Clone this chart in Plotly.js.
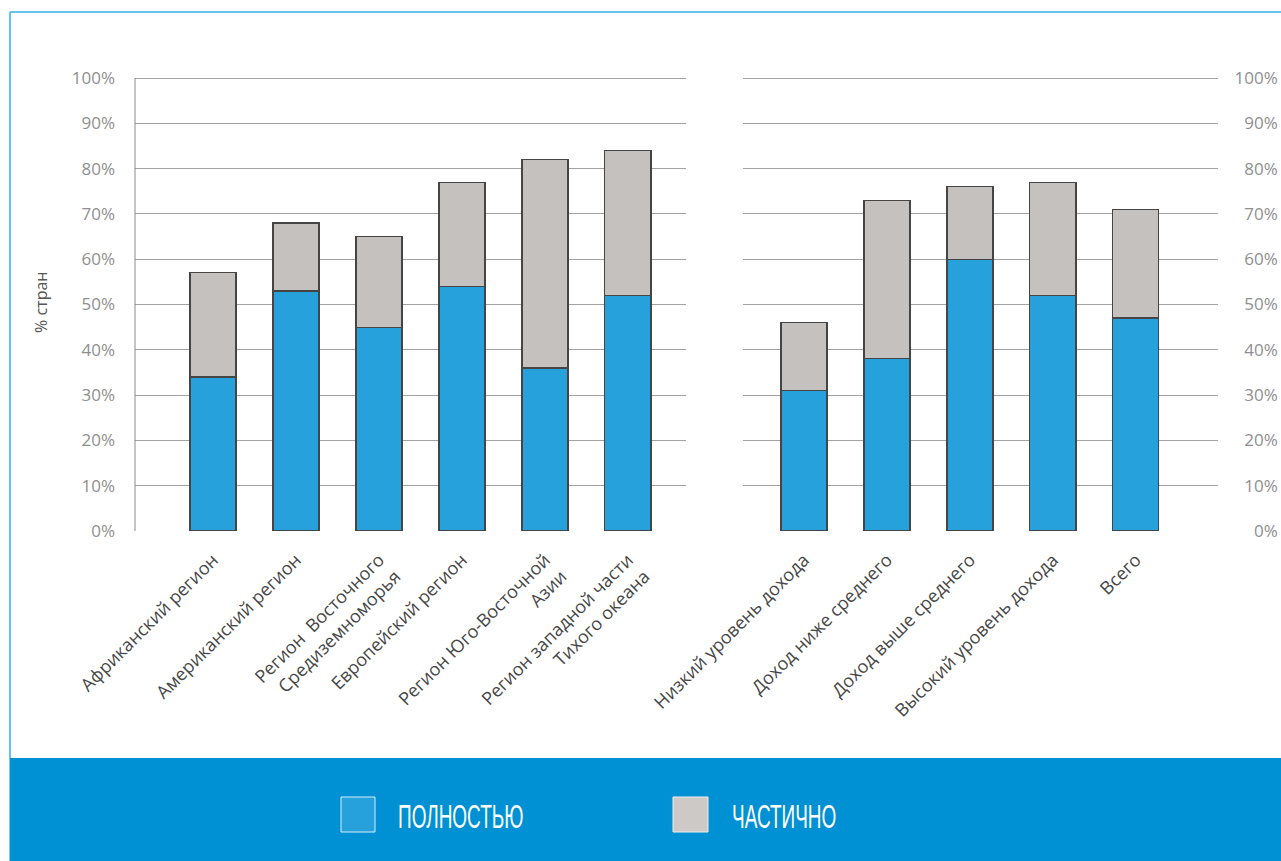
<!DOCTYPE html>
<html>
<head>
<meta charset="utf-8">
<script src="https://cdn.plot.ly/plotly-3.0.1.min.js"></script>
<style>
  html, body { margin: 0; padding: 0; background: #ffffff; }
  #chart { width: 1281px; height: 861px; }
  /* condensed look for the legend labels */
  #chart .annotation-text {
    transform-box: fill-box;
    transform-origin: 0% 50%;
    transform: scale(0.73, 1.3);
  }
</style>
</head>
<body>
<div id="chart"></div>
<script>
// ---- Data ----
const regions = [
  'Африканский регион',
  'Американский регион',
  'Регион  Восточного<br>Средиземноморья',
  'Европейский регион',
  'Регион Юго-Восточной<br>Азии',
  'Регион западной части<br>Тихого океана'
];
const regionFull = [34, 53, 45, 54, 36, 52];
const regionPartial = [23, 15, 20, 23, 46, 32];

const incomeGroups = [
  'Низкий уровень дохода',
  'Доход ниже среднего',
  'Доход выше среднего',
  'Высокий уровень дохода',
  'Всего'
];
const incomeFull = [31, 38, 60, 52, 47];
const incomePartial = [15, 35, 16, 25, 24];

const seriesNames = ['ПОЛНОСТЬЮ', 'ЧАСТИЧНО'];
const yAxisTitle = '% стран';
const yTickValues = [0, 10, 20, 30, 40, 50, 60, 70, 80, 90, 100];
const yTickLabels = ['0%', '10%', '20%', '30%', '40%', '50%', '60%', '70%', '80%', '90%', '100%'];

// ---- Styles ----
const W = 1281, H = 861;
const px = v => v / W;
const py = v => (H - v) / H;
const BLUE = '#26a1db';
const GREY = '#c5c1be';
const BAR_LINE = { color: '#454545', width: 1.2 };
const GRID = '#a3a3a3';
const TICKFONT = { family: 'Open Sans, Noto Sans, sans-serif', size: 17, color: '#8f8f8f' };
const CATFONT = { family: 'Open Sans, Noto Sans, sans-serif', size: 18, color: '#474747' };
const LEGFONT = { family: 'Liberation Sans, Arial, sans-serif', size: 26, color: '#ffffff' };
const BAR_W = 0.555;

const traces = [
  { type: 'bar', name: seriesNames[0], x: regions, y: regionFull, xaxis: 'x', yaxis: 'y',
    marker: { color: BLUE, line: BAR_LINE }, width: BAR_W, hoverinfo: 'x+y' },
  { type: 'bar', name: seriesNames[1], x: regions, y: regionPartial, xaxis: 'x', yaxis: 'y',
    marker: { color: GREY, line: BAR_LINE }, width: BAR_W, hoverinfo: 'x+y' },
  { type: 'bar', name: seriesNames[0], x: incomeGroups, y: incomeFull, xaxis: 'x2', yaxis: 'y2',
    marker: { color: BLUE, line: BAR_LINE }, width: BAR_W, hoverinfo: 'x+y' },
  { type: 'bar', name: seriesNames[1], x: incomeGroups, y: incomePartial, xaxis: 'x2', yaxis: 'y2',
    marker: { color: GREY, line: BAR_LINE }, width: BAR_W, hoverinfo: 'x+y' },
  { type: 'scatter', mode: 'markers', x: [], y: [], xaxis: 'x2', yaxis: 'y3', hoverinfo: 'skip' }
];

// 0% at y=531 px, 100% at y=78 px; range extended to 101 so the 100% grid line is kept
const Y_MAX = 101;
const yTopPx = 531 - (531 - 78) * Y_MAX / 100;
const yDomain = [py(531), py(yTopPx)];
const commonY = {
  range: [0, Y_MAX], tickmode: 'array', tickvals: yTickValues, ticktext: yTickLabels,
  zeroline: false, gridcolor: GRID, gridwidth: 1, fixedrange: true
};

const layout = {
  width: W, height: H,
  margin: { l: 0, r: 0, t: 0, b: 0 },
  paper_bgcolor: '#ffffff', plot_bgcolor: 'rgba(0,0,0,0)',
  barmode: 'stack', showlegend: false,
  xaxis: {
    domain: [px(135), px(686)], anchor: 'y', type: 'category',
    range: [-0.94, 5.70], tickangle: -45, tickfont: CATFONT,
    showgrid: false, zeroline: false, showline: false, ticks: '',
    ticklabelstandoff: 14, fixedrange: true
  },
  xaxis2: {
    domain: [px(743), px(1218)], anchor: 'y2', type: 'category',
    range: [-0.735, 4.99], tickangle: -45, tickfont: CATFONT,
    showgrid: false, zeroline: false, showline: false, ticks: '',
    ticklabelstandoff: 14, fixedrange: true
  },
  yaxis: Object.assign({}, commonY, {
    domain: yDomain, anchor: 'x', side: 'left',
    showline: false,
    tickfont: TICKFONT, ticklabelstandoff: 19,
    title: { text: yAxisTitle, font: { family: 'Open Sans, Noto Sans, sans-serif', size: 16, color: '#555555' }, standoff: 20 }
  }),
  yaxis2: Object.assign({}, commonY, {
    domain: yDomain, anchor: 'x2', showticklabels: false, showline: false
  }),
  yaxis3: Object.assign({}, commonY, {
    overlaying: 'y2', anchor: 'free', position: 0.999, side: 'left',
    showgrid: false, showline: false, tickfont: TICKFONT, ticklabelstandoff: 2
  }),
  shapes: [
    // left axis line of the first panel (0% .. 100%)
    { type: 'line', xref: 'x domain', yref: 'y', x0: 0, x1: 0, y0: 0, y1: 100,
      line: { color: '#8a8a8a', width: 1 } },
    // frame lines
    { type: 'line', xref: 'paper', yref: 'paper', x0: px(10), x1: 1, y0: py(12), y1: py(12),
      line: { color: '#33aee8', width: 1.5 } },
    { type: 'line', xref: 'paper', yref: 'paper', x0: px(10), x1: px(10), y0: py(12), y1: py(758),
      line: { color: '#33aee8', width: 1.5 } },
    // legend band
    { type: 'rect', xref: 'paper', yref: 'paper', x0: px(9.5), x1: 1, y0: 0, y1: py(758),
      fillcolor: '#0091d5', line: { width: 0 }, layer: 'below' },
    // legend swatches
    { type: 'rect', xref: 'paper', yref: 'paper', x0: px(341), x1: px(375), y0: py(832), y1: py(797),
      fillcolor: BLUE, line: { color: '#d8eef9', width: 1 } },
    { type: 'rect', xref: 'paper', yref: 'paper', x0: px(673), x1: px(708), y0: py(832), y1: py(797),
      fillcolor: '#cdc9c6', line: { color: '#eeeeee', width: 1 } }
  ],
  annotations: [
    { xref: 'paper', yref: 'paper', x: px(396), y: py(816), xanchor: 'left', yanchor: 'middle',
      text: seriesNames[0], showarrow: false, font: LEGFONT },
    { xref: 'paper', yref: 'paper', x: px(730), y: py(816), xanchor: 'left', yanchor: 'middle',
      text: seriesNames[1], showarrow: false, font: LEGFONT }
  ]
};

Plotly.newPlot('chart', traces, layout, { displayModeBar: false, staticPlot: true });
</script>
</body>
</html>
